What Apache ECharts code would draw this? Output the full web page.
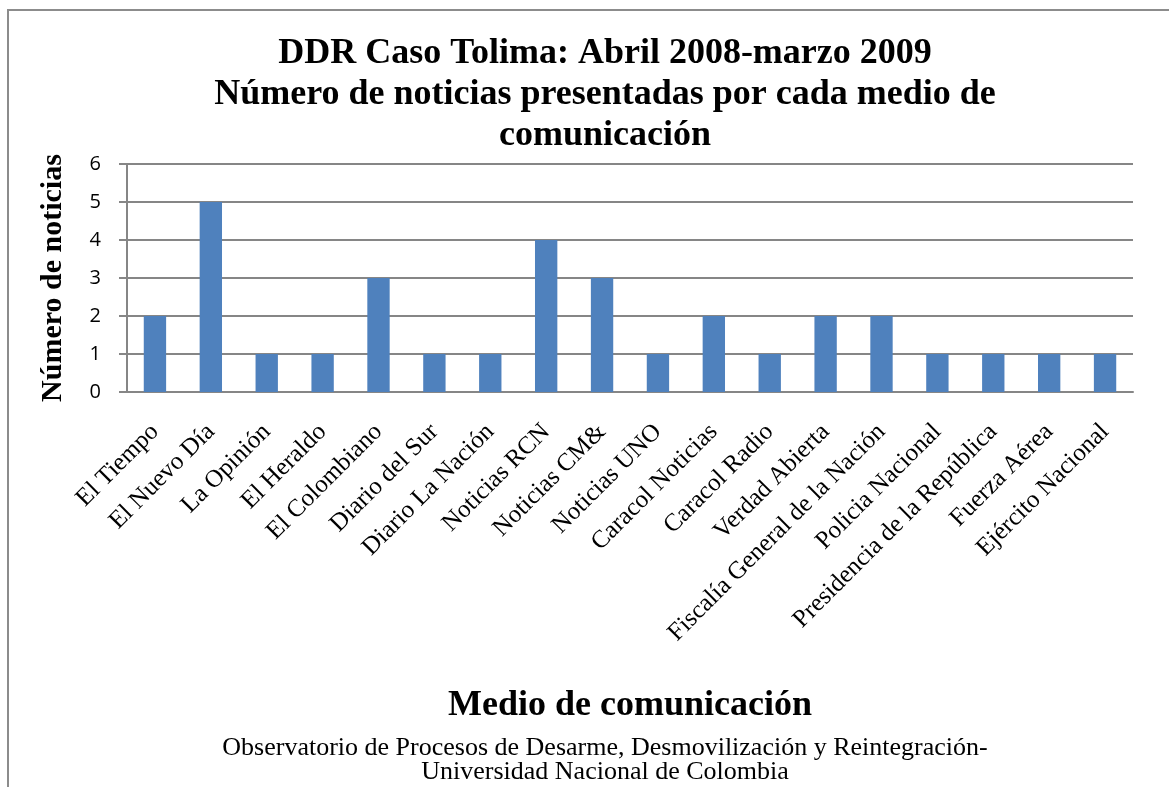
<!DOCTYPE html>
<html>
<head>
<meta charset="utf-8">
<script src="https://cdn.jsdelivr.net/npm/echarts@6/dist/echarts.min.js"></script>
<style>
  html, body { margin: 0; padding: 0; background: #fff; }
  #chart { width: 1169px; height: 787px; }
</style>
</head>
<body>
<div id="chart"></div>
<script>
// medios y número de noticias
var medios = ['El Tiempo', 'El Nuevo Día', 'La Opinión', 'El Heraldo', 'El Colombiano',
    'Diario del Sur', 'Diario La Nación', 'Noticias RCN', 'Noticias CM&', 'Noticias UNO',
    'Caracol Noticias', 'Caracol Radio', 'Verdad Abierta', 'Fiscalía General de la Nación',
    'Policia Nacional', 'Presidencia de la República', 'Fuerza Aérea', 'Ejército Nacional'];
var noticias = [2, 5, 1, 1, 3, 1, 1, 4, 3, 1, 2, 1, 2, 2, 1, 1, 1, 1];
var ticksY = [0, 1, 2, 3, 4, 5, 6];

var serif = '"Liberation Serif", "DejaVu Serif", serif';

var option = {
    backgroundColor: '#ffffff',
    animation: false,
    title: [{
        text: 'DDR Caso Tolima: Abril 2008-marzo 2009\nNúmero de noticias presentadas por cada medio de\ncomunicación',
        left: 600,
        top: 28,
        textAlign: 'center',
        textStyle: {
            fontFamily: serif,
            fontWeight: 'bold',
            fontSize: 36,
            lineHeight: 41,
            color: '#000'
        }
    }, {
        text: 'Observatorio de Procesos de Desarme, Desmovilización y Reintegración-\nUniversidad Nacional de Colombia',
        left: 600,
        top: 731,
        textAlign: 'center',
        textStyle: {
            fontFamily: serif,
            fontWeight: 'normal',
            fontSize: 26,
            lineHeight: 24,
            color: '#000'
        }
    }],
    graphic: [{
        type: 'rect',
        shape: { x: 8, y: 10, width: 1180, height: 800 },
        style: { fill: null, stroke: '#8c8c8c', lineWidth: 2 },
        silent: true
    }],
    grid: {
        left: 127,
        right: 36,
        top: 164,
        height: 228
    },
    xAxis: {
        type: 'category',
        data: medios,
        name: 'Medio de comunicación',
        nameLocation: 'middle',
        nameGap: 296,
        nameTextStyle: {
            fontFamily: serif,
            fontWeight: 'bold',
            fontSize: 36,
            color: '#000'
        },
        axisLine: { lineStyle: { color: '#868686', width: 2 } },
        axisTick: { show: false },
        axisLabel: {
            rotate: 45,
            interval: 0,
            margin: 36,
            fontFamily: serif,
            fontSize: 25,
            color: '#000'
        }
    },
    yAxis: {
        type: 'value',
        min: ticksY[0],
        max: ticksY[ticksY.length - 1],
        interval: 1,
        name: 'Número de noticias',
        nameLocation: 'middle',
        nameGap: 59,
        nameTextStyle: {
            fontFamily: serif,
            fontWeight: 'bold',
            fontSize: 30,
            color: '#000'
        },
        axisLine: { show: true, lineStyle: { color: '#868686', width: 2 } },
        axisTick: { show: true, length: 8, lineStyle: { color: '#868686', width: 2 } },
        splitLine: { lineStyle: { color: '#868686', width: 2 } },
        axisLabel: {
            margin: 26,
            fontFamily: '"Open Sans", "Liberation Sans", sans-serif',
            fontSize: 20,
            color: '#000'
        }
    },
    series: [{
        type: 'bar',
        data: noticias,
        barCategoryGap: '60%',
        itemStyle: { color: '#4f81bd' }
    }]
};

var chart = echarts.init(document.getElementById('chart'));
chart.setOption(option);
</script>
</body>
</html>
